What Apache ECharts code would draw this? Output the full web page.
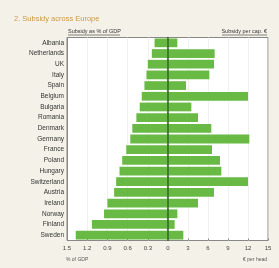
<!DOCTYPE html>
<html>
<head>
<meta charset="utf-8">
<script src="https://cdn.jsdelivr.net/npm/echarts@6/dist/echarts.min.js"></script>
<style>
  html, body { margin: 0; padding: 0; background: #f4f2e8; }
  #chart { width: 279px; height: 268px; }
</style>
</head>
<body>
<div id="chart"></div>
<script>
// countries top to bottom
const countries = ['Albania', 'Netherlands', 'UK', 'Italy', 'Spain', 'Belgium', 'Bulgaria', 'Romania',
  'Denmark', 'Germany', 'France', 'Poland', 'Hungary', 'Switzerland', 'Austria', 'Ireland',
  'Norway', 'Finland', 'Sweden']
// left side: subsidy as % of GDP
const shareOfGdp = [0.20, 0.24, 0.30, 0.32, 0.35, 0.39, 0.42, 0.47, 0.53, 0.56, 0.62, 0.68,
  0.72, 0.77, 0.80, 0.90, 0.95, 1.13, 1.37]
// right side: subsidy per capita
const perCapita = [1.4, 7.0, 6.9, 6.2, 2.7, 12.0, 3.5, 4.5, 6.5, 12.2, 6.6, 7.8, 8.0, 12.0,
  6.9, 4.5, 1.4, 1.0, 2.3]
const leftTicks = ['0', '0.3', '0.6', '0.9', '1.2', '1.5']
const rightTicks = ['0', '3', '6', '9', '12', '15']

const green = '#69b945'
const chart = echarts.init(document.getElementById('chart'))

const catAxis = (idx, showLabels, lineColor) => ({
  type: 'category',
  gridIndex: idx,
  data: countries,
  inverse: true,
  position: 'left',
  axisLine: { show: true, onZero: false, lineStyle: { color: lineColor, width: lineColor === '#888' ? 1 : 1.5 } },
  axisTick: { show: false },
  axisLabel: { show: showLabels, fontSize: 6.5, color: '#333', margin: 3, fontFamily: 'Liberation Sans' },
  z: 5
})

const option = {
  backgroundColor: '#f4f2e8',
  animation: false,
  title: {
    text: '2. Subsidy across Europe',
    left: 9, top: 10,
    textStyle: { fontSize: 7.5, color: '#c99a45', fontWeight: 'normal', fontFamily: 'Liberation Sans' }
  },
  grid: [
    { left: 67, top: 37.5, width: 101, height: 203, show: true, backgroundColor: '#fff', borderColor: '#888', borderWidth: 1 },
    { left: 168, top: 37.5, width: 100, height: 203, show: true, backgroundColor: '#fff', borderColor: '#888', borderWidth: 1 }
  ],
  xAxis: [
    {
      type: 'value', gridIndex: 0, inverse: true, min: 0, max: 1.5, interval: 0.3,
      axisLine: { show: false },
      axisTick: { show: true, inside: true, length: 2, lineStyle: { color: '#888' } },
      axisLabel: { fontSize: 6, color: '#444', margin: 5, formatter: (v, i) => leftTicks[i], fontFamily: 'Liberation Sans' },
      splitLine: { show: true, lineStyle: { color: '#e4e4e4', type: 'dotted' } }
    },
    {
      type: 'value', gridIndex: 1, min: 0, max: 15, interval: 3,
      axisLine: { show: false },
      axisTick: { show: true, inside: true, length: 2, lineStyle: { color: '#888' } },
      axisLabel: { fontSize: 6, color: '#444', margin: 5, fontFamily: 'Liberation Sans',
        formatter: (v, i) => i === 0 ? '' : rightTicks[i] },
      splitLine: { show: true, lineStyle: { color: '#e4e4e4', type: 'dotted' } }
    }
  ],
  yAxis: [
    catAxis(0, true, '#888'),
    catAxis(1, false, '#2f6a1f')
  ],
  series: [
    { type: 'bar', xAxisIndex: 0, yAxisIndex: 0, data: shareOfGdp, barCategoryGap: '18%',
      itemStyle: { color: green } },
    { type: 'bar', xAxisIndex: 1, yAxisIndex: 1, data: perCapita, barCategoryGap: '18%',
      itemStyle: { color: green } }
  ],
  graphic: [
    { type: 'text', left: 68, top: 28, style: { text: 'Subsidy as % of GDP', fontSize: 5.5, fill: '#333', fontFamily: 'Liberation Sans' } },
    { type: 'line', shape: { x1: 68, y1: 35, x2: 120, y2: 35 }, style: { stroke: '#333', lineWidth: 0.6 } },
    { type: 'text', right: 12, top: 28, style: { text: 'Subsidy per cap. €', fontSize: 5.5, fill: '#333', fontFamily: 'Liberation Sans' } },
    { type: 'line', shape: { x1: 222, y1: 35, x2: 267, y2: 35 }, style: { stroke: '#333', lineWidth: 0.6 } },
    { type: 'text', left: 66, top: 257, style: { text: '% of GDP', fontSize: 5, fill: '#555', fontFamily: 'Liberation Sans' } },
    { type: 'text', right: 12, top: 257, style: { text: '€ per head', fontSize: 5, fill: '#555', fontFamily: 'Liberation Sans' } }
  ]
}

chart.setOption(option)
</script>
</body>
</html>
